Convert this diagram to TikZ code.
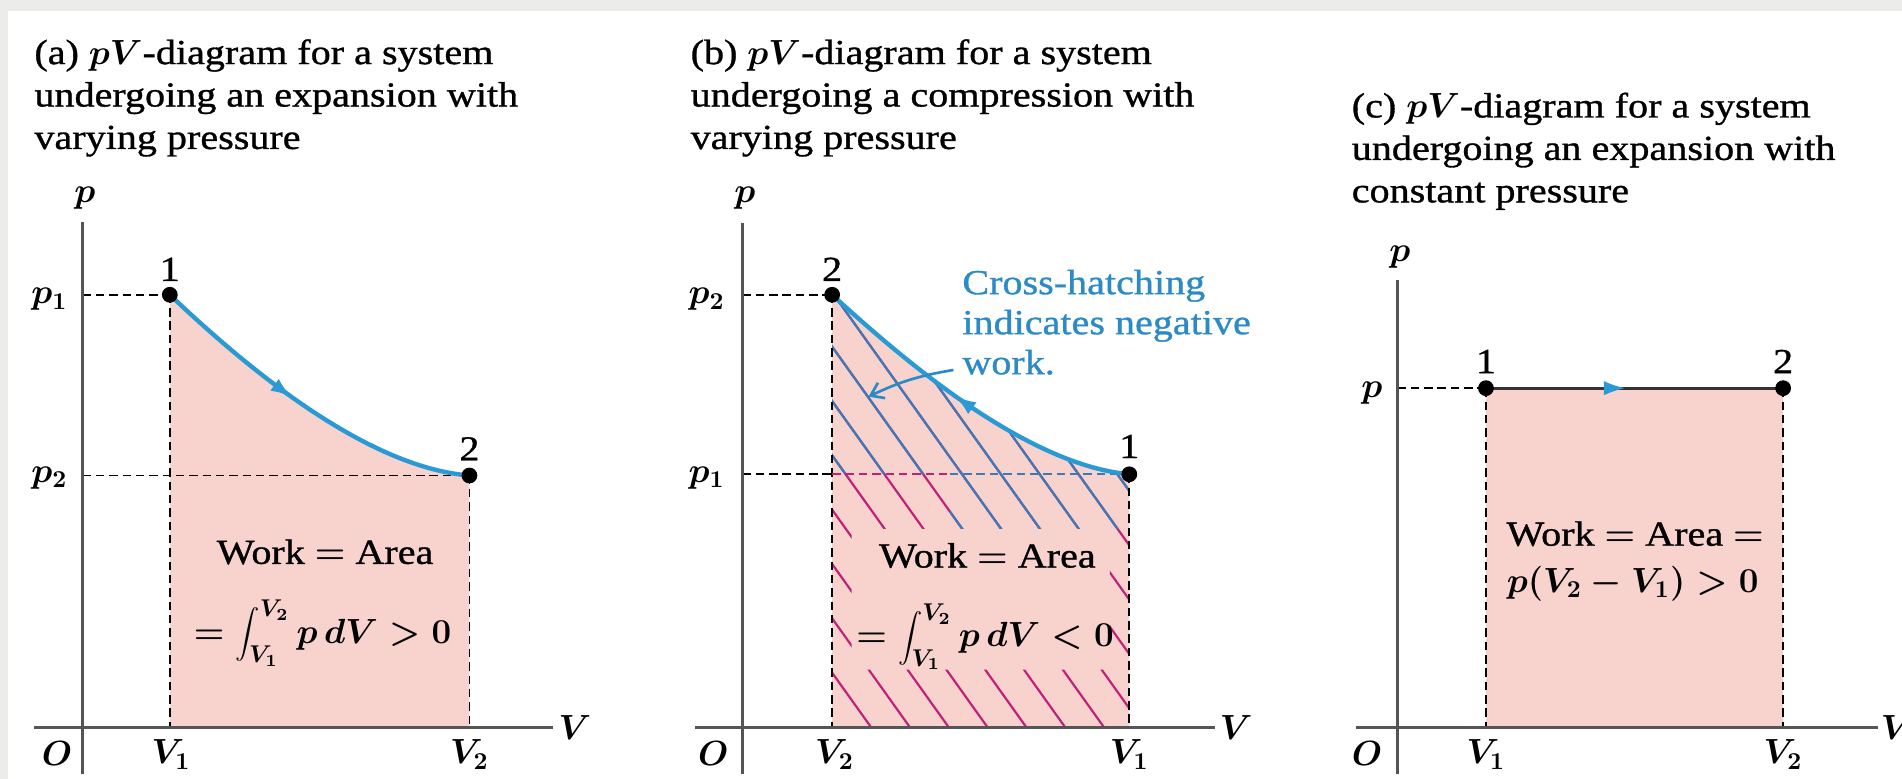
\documentclass[tikz,border=0pt]{standalone}
\usepackage{fontspec}
\setmainfont[FakeStretch=1.14,FakeBold=0.9]{Liberation Serif}
\usepackage{tikz}
\usetikzlibrary{arrows.meta,decorations.markings}
\definecolor{pvPink}{HTML}{F8D3CE}
\definecolor{pvBlue}{HTML}{2A9AD4}
\definecolor{pvTextBlue}{HTML}{2C8BC6}
\definecolor{pvHatchBlue}{HTML}{3C7AB8}
\definecolor{pvMagenta}{HTML}{C2207A}
\definecolor{pvAxis}{HTML}{555555}
\definecolor{pvFrame}{HTML}{ECECEA}
\newcommand{\pvfont}{\fontsize{14.5pt}{17.5pt}\selectfont\boldmath}
\tikzset{
  axis line/.style={line width=1.1pt, draw=pvAxis},
  guide/.style={draw=black, line width=0.7pt, dash pattern=on 3.5pt off 2pt},
  state dot/.style={circle, fill=black, minimum size=6.5pt, inner sep=0pt},
  path curve/.style={line width=1.8pt, draw=pvBlue},
  mid arrow/.style={postaction={decorate}, decoration={markings,
    mark=at position #1 with {\arrow{Latex[length=9pt,width=6pt,color=pvBlue]}}}},
  hatch/.style={line width=0.9pt},
  title text/.style={anchor=north west, align=left, inner sep=0pt,
    font=\pvfont},
  axis label/.style={inner sep=0pt, font=\pvfont},
  work label/.style={inner sep=0pt, font=\pvfont},
  note text/.style={anchor=north west, align=left, inner sep=0pt,
    font=\fontsize{14.5pt}{16.5pt}\selectfont, text=pvTextBlue},
  note arrow/.style={-{Straight Barb[length=5pt,width=7pt]}, line width=1.1pt,
    draw=pvTextBlue}
}

\begin{document}
\begin{tikzpicture}[x=0.5pt,y=-0.5pt]
  \useasboundingbox (0,0) rectangle (1568,642);
  \fill[white] (0,0) rectangle (1568,642);
  \fill[pvFrame] (0,0) rectangle (1568,9);
  \fill[pvFrame] (0,0) rectangle (7,642);

  % (a) expansion, varying pressure
  \node[title text] (atitle) at (28,32)
    {(a) $pV$-diagram for a system\\undergoing an expansion with\\varying pressure};
  \coordinate (aO) at (68,600);
  \coordinate (a1) at (140,243);
  \coordinate (a2) at (387,392);
  \fill[pvPink] (a1) .. controls (200,300) and (300,385) .. (a2)
    -- (a2 |- aO) -- (a1 |- aO) -- cycle;
  \draw[guide] (a1 -| aO) -- (a1);
  \draw[guide] (a1) -- (a1 |- aO);
  \draw[guide] (a2 -| aO) -- (a2);
  \draw[guide] (a2) -- (a2 |- aO);
  \draw[axis line] (68,183) -- (68,638);
  \draw[axis line] (28,600) -- (456,600);
  \draw[path curve, mid arrow=0.45] (a1) .. controls (200,300) and (300,385) .. (a2);
  \node[state dot] (adot1) at (a1) {};
  \node[state dot] (adot2) at (a2) {};
  \node[axis label] (ap) at (70,163) {$p$};
  \node[axis label] (aV) at (474,600) {$V$};
  \node[axis label] (ao) at (47,621) {$O$};
  \node[axis label] (aV1) at (141,622) {$V_1$};
  \node[axis label] (aV2) at (387,622) {$V_2$};
  \node[axis label, anchor=east] (ap1) at (56,247) {$p_1$};
  \node[axis label, anchor=east] (ap2) at (56,394) {$p_2$};
  \node[axis label] (an1) at (140,222) {1};
  \node[axis label] (an2) at (387,370) {2};
  \node[work label] (awork) at (268,455) {Work $=$ Area};
  \node[work label] (aint) at (266,522) {$=\displaystyle\int_{V_1}^{V_2}p\,dV>0$};

  % (b) compression, varying pressure
  \node[title text] (btitle) at (569,32)
    {(b) $pV$-diagram for a system\\undergoing a compression with\\varying pressure};
  \coordinate (bO) at (612,600);
  \coordinate (b2) at (686,243);
  \coordinate (b1) at (931,391);
  \coordinate (bmid) at (783,391);
  \fill[pvPink] (b2) .. controls (746,298) and (846,383) .. (b1)
    -- (b1 |- bO) -- (b2 |- bO) -- cycle;
  \begin{scope}
    \clip (b2) .. controls (746,298) and (846,383) .. (b1)
      -- (b1 |- bO) -- (b2 |- bO) -- cycle;
    \begin{scope}[even odd rule]
      \clip (600,150) rectangle (1000,650) (702,436) rectangle (915,552);
      \foreach \s in {365,397,...,877}
        \draw[hatch, pvMagenta] (\s,150) -- ++(360,504);
    \end{scope}
  \end{scope}
  \begin{scope}
    \clip (b2) .. controls (746,298) and (846,383) .. (b1)
      -- (b1 |- bO) -- (b2 |- bO) -- cycle;
    \clip (686,150) -- (931,150) -- (931,436) -- (783,436)
      -- (783,391) -- (686,391) -- cycle;
    \foreach \s in {365,397,...,877}
      \draw[hatch, pvHatchBlue] (\s,150) -- ++(360,504);
  \end{scope}
  \draw[guide] (b2 -| bO) -- (b2);
  \draw[guide] (b2) -- (b2 |- bO);
  \draw[guide] (b1 -| bO) -- (b1 -| b2);
  \draw[guide, draw=pvMagenta] (b1 -| b2) -- (bmid);
  \draw[guide, draw=pvHatchBlue] (bmid) -- (b1);
  \draw[guide] (b1) -- (b1 |- bO);
  \draw[axis line] (612,184) -- (612,638);
  \draw[axis line] (573,600) -- (1002,600);
  \draw[path curve, mid arrow=0.55] (b1) .. controls (846,383) and (746,298) .. (b2);
  \node[state dot] (bdot2) at (b2) {};
  \node[state dot] (bdot1) at (b1) {};
  \node[axis label] (bp) at (614,163) {$p$};
  \node[axis label] (bV) at (1019,600) {$V$};
  \node[axis label] (bo) at (588,621) {$O$};
  \node[axis label] (bV2) at (688,622) {$V_2$};
  \node[axis label] (bV1) at (931,622) {$V_1$};
  \node[axis label, anchor=east] (bp2) at (598,247) {$p_2$};
  \node[axis label, anchor=east] (bp1) at (598,394) {$p_1$};
  \node[axis label] (bn2) at (686,222) {2};
  \node[axis label] (bn1) at (931,368) {1};
  \node[work label] (bwork) at (814,458) {Work $=$ Area};
  \node[work label] (bint) at (812,525) {$=\displaystyle\int_{V_1}^{V_2}p\,dV<0$};
  \node[note text] (bnote) at (793,222)
    {Cross-hatching\\indicates negative\\work.};
  \coordinate (bnoteTail) at (786,305);
  \coordinate (bnoteTip) at (716,327);
  \draw[note arrow] (bnoteTail) to[bend right=8] (bnoteTip);

  % (c) expansion, constant pressure
  \node[title text] (ctitle) at (1114,76)
    {(c) $pV$-diagram for a system\\undergoing an expansion with\\constant pressure};
  \coordinate (cO) at (1152,600);
  \coordinate (c1) at (1225,320);
  \coordinate (c2) at (1470,320);
  \fill[pvPink] (c1) rectangle (c2 |- cO);
  \draw[guide] (c1 -| cO) -- (c1);
  \draw[guide] (c1) -- (c1 |- cO);
  \draw[guide] (c2) -- (c2 |- cO);
  \draw[axis line] (1152,231) -- (1152,638);
  \draw[axis line] (1118,600) -- (1548,600);
  \draw[line width=1.3pt, draw=black!80, mid arrow=0.47] (c1) -- (c2);
  \node[state dot] (cdot1) at (c1) {};
  \node[state dot] (cdot2) at (c2) {};
  \node[axis label] (cp) at (1154,212) {$p$};
  \node[axis label] (cV) at (1564,600) {$V$};
  \node[axis label] (co) at (1127,621) {$O$};
  \node[axis label] (cV1) at (1225,622) {$V_1$};
  \node[axis label] (cV2) at (1470,622) {$V_2$};
  \node[axis label, anchor=east] (cpl) at (1140,324) {$p$};
  \node[axis label] (cn1) at (1225,298) {1};
  \node[axis label] (cn2) at (1470,298) {2};
  \node[work label] (cwork) at (1348,440) {Work $=$ Area $=$};
  \node[work label] (cval) at (1346,481) {$p(V_2-V_1)>0$};
\end{tikzpicture}
\end{document}
